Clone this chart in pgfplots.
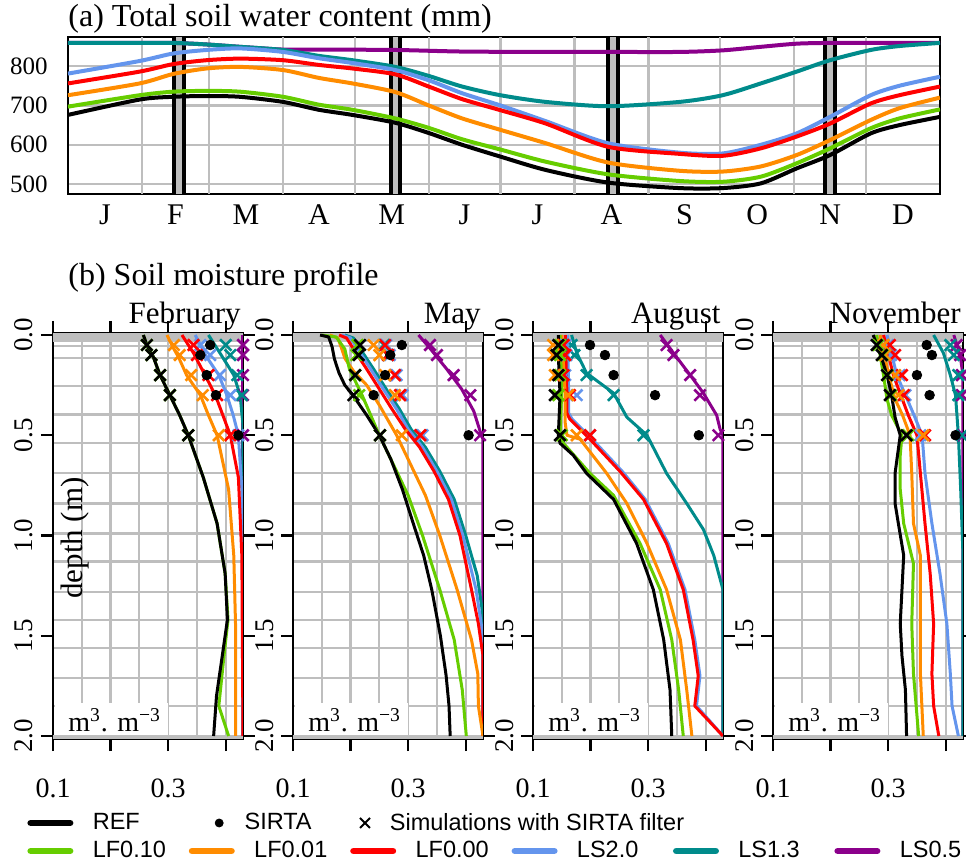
\documentclass[border=0pt]{standalone}
\usepackage{pgfplots}
\pgfplotsset{compat=1.18}
\usepackage{fontspec}
\setmainfont{Liberation Serif}
\newfontfamily\legendfont{Liberation Sans}

\definecolor{gridgray}{RGB}{190,190,190}
\definecolor{cREF}{RGB}{0,0,0}
\definecolor{cLF10}{RGB}{102,205,0}
\definecolor{cLF01}{RGB}{255,140,0}
\definecolor{cLF00}{RGB}{255,0,0}
\definecolor{cLS20}{RGB}{100,149,237}
\definecolor{cLS13}{RGB}{0,139,139}
\definecolor{cLS05}{RGB}{139,0,139}

\newcommand\fs[1]{\fontsize{#1}{#1}\selectfont}

\pgfplotsset{
  prof/.style={line width=1.5pt, line join=round, no marks},
  filt/.style={only marks, mark=x, mark size=4pt, line width=1.3pt},
  obs/.style={only marks, mark=*, mark size=2.4pt, black},
  swc/.style={line width=2pt, smooth, tension=0.45, no marks},
  profile/.style={
    scale only axis, width=95pt, height=203pt, anchor=south west,
    xmin=0.1, xmax=0.43, ymin=-0.01, ymax=2.015, y dir=reverse,
    axis line style={line width=1.2pt},
    xtick={0.1,0.2,0.3,0.4}, xticklabels={0.1,,0.3,},
    ytick={0,0.5,1,1.5,2}, yticklabels={0.0,0.5,1.0,1.5,2.0},
    minor xtick={0.15,0.25,0.35},
    minor ytick={0.053,0.116,0.253,0.396,0.54,0.69,0.84,0.99,1.13,1.28,1.42,1.56,1.71,1.85},
    xmajorgrids=true, xminorgrids=true, yminorgrids=true, ymajorgrids=false,
    major grid style={gridgray, line width=1.1pt},
    minor grid style={gridgray, line width=1.1pt},
    tick align=outside, major tick length=6pt, minor tick length=0pt,
    tick style={black, line width=1.1pt},
    xticklabel style={font=\fs{14pt}, anchor=base, yshift=-23pt},
    yticklabel style={font=\fs{13.5pt}, rotate=90, anchor=base},
    yticklabel shift=4pt,
    title style={font=\fs{15.5pt}, at={(1,1)}, anchor=base east, yshift=-1.5pt, xshift=-1pt, inner sep=0pt},
  },
}

% soil layer shading and unit box, common to the four profiles
\newcommand\profilebackdrop{%
  \fill[gridgray] (axis cs:0.1,-0.01) rectangle (axis cs:0.43,0.035);
  \fill[gridgray] (axis cs:0.1,1.993) rectangle (axis cs:0.43,2.015);
  \fill[white] (axis cs:0.1035,1.835) rectangle (axis cs:0.3,1.993);
  \node[anchor=base west, inner sep=0pt, font=\fs{14pt}] at (axis cs:0.126,1.98)
    {m\textsuperscript{3}. m\textsuperscript{\char"2212 3}};
}

\begin{document}
\begin{tikzpicture}

% ---------------- (a) total soil water content ----------------
\begin{axis}[
  at={(34pt,334.5pt)}, anchor=south west,
  scale only axis, width=436pt, height=78.5pt,
  xmin=0, xmax=365, ymin=475, ymax=874,
  axis line style={line width=1pt},
  xtick={15.5,45,74.5,105,135.5,166,196.5,227.5,258,288.5,319,349.5},
  xticklabels={J,F,M,A,M,J,J,A,S,O,N,D},
  xticklabel style={font=\fs{15pt}, anchor=base, yshift=-15.5pt},
  ytick={500,600,700,800}, yticklabels={500,600,700,800},
  yticklabel style={font=\fs{12.5pt}, anchor=east, inner sep=0pt, xshift=-10pt},
  major tick length=0pt,
  ymajorgrids=true,
  major grid style={gridgray, line width=1.1pt},
  extra x ticks={31,59,90,120,151,181,212,243,273,304,334},
  extra x tick labels={},
  extra x tick style={grid=major},
]
% sampling dates of the four profiles
\fill[gridgray] (axis cs:44.2,475) rectangle (axis cs:48.4,874);
\fill[gridgray] (axis cs:135.3,475) rectangle (axis cs:139.1,874);
\fill[gridgray] (axis cs:226,475) rectangle (axis cs:230.2,874);
\fill[gridgray] (axis cs:317,475) rectangle (axis cs:321.2,874);
\draw[line width=2pt] (axis cs:44.2,475) -- (axis cs:44.2,874) (axis cs:48.4,475) -- (axis cs:48.4,874)
  (axis cs:135.3,475) -- (axis cs:135.3,874) (axis cs:139.1,475) -- (axis cs:139.1,874)
  (axis cs:226,475) -- (axis cs:226,874) (axis cs:230.2,475) -- (axis cs:230.2,874)
  (axis cs:317,475) -- (axis cs:317,874) (axis cs:321.2,475) -- (axis cs:321.2,874);

\addplot[swc, cLS05] coordinates {(0,859) (30,859) (44,859) (58,855) (72,849) (90,842) (105,842) (137,841) (165,837) (200,836) (226,836) (256,836) (274,840) (290,849) (305,857) (319,859) (336,859) (365,859)};
\addplot[swc, cLS13] coordinates {(0,859) (30,859) (44,859) (58,855) (72,849) (90,841) (105,826) (119,815) (137,798) (151,775) (165,748) (181,726) (200,709) (226,698) (256,709) (274,726) (290,756) (305,786) (319,815) (336,841) (348,851) (365,859)};
\addplot[swc, cLS20] coordinates {(0,781) (30,813) (44,832) (58,841) (72,845) (90,836) (105,820) (119,808) (137,790) (151,764) (165,731) (181,700) (200,660) (226,604) (256,580) (274,578) (290,600) (305,629) (319,671) (336,726) (348,750) (365,773)};
\addplot[swc, cLF00] coordinates {(0,756) (30,786) (44,805) (58,815) (72,819) (90,815) (105,803) (119,794) (137,779) (151,748) (165,716) (181,688) (200,654) (226,595) (256,577) (274,572) (290,591) (305,621) (319,654) (336,705) (348,726) (365,748)};
\addplot[swc, cLF01] coordinates {(0,726) (30,756) (44,780) (58,794) (72,798) (90,790) (105,770) (119,756) (137,734) (151,700) (165,667) (181,638) (200,604) (226,555) (256,534) (274,532) (290,545) (305,574) (319,612) (336,663) (348,693) (365,720)};
\addplot[swc, cLF10] coordinates {(0,697) (30,726) (44,735) (58,737) (72,735) (90,722) (105,702) (119,689) (137,667) (151,643) (165,614) (181,588) (200,557) (226,525) (256,508) (274,506) (290,519) (305,553) (319,591) (336,642) (348,667) (365,690)};
\addplot[swc, cREF] coordinates {(0,676) (30,715) (44,722) (58,724) (72,722) (90,709) (105,689) (119,676) (137,656) (151,630) (165,600) (181,570) (200,536) (226,504) (256,490) (274,490) (290,502) (305,540) (319,574) (336,629) (348,650) (365,671)};
\end{axis}

% ---------------- (b) profiles: February ----------------
\begin{axis}[profile, at={(26.5pt,62pt)}, title=February]
\profilebackdrop
\addplot[prof, cLS05] coordinates {(0.43,0) (0.43,2.0)};
\addplot[prof, cLS13] coordinates {(0.37,0) (0.39,0.09) (0.414,0.2) (0.425,0.3) (0.43,0.45) (0.43,2.0)};
\addplot[prof, cLS20] coordinates {(0.347,0) (0.367,0.11) (0.388,0.2) (0.402,0.3) (0.413,0.4) (0.422,0.5) (0.428,0.77) (0.43,1.1) (0.43,2.0)};
\addplot[prof, cLF00] coordinates {(0.324,0) (0.344,0.09) (0.364,0.2) (0.382,0.3) (0.395,0.4) (0.408,0.5) (0.422,0.71) (0.428,1.1) (0.43,2.0)};
\addplot[prof, cLF01] coordinates {(0.298,0) (0.309,0.065) (0.318,0.11) (0.332,0.2) (0.356,0.3) (0.37,0.4) (0.385,0.5) (0.405,0.77) (0.414,1.1) (0.417,1.44) (0.417,2.0)};
\addplot[prof, cLF10] coordinates {(0.257,0) (0.263,0.05) (0.274,0.108) (0.286,0.2) (0.303,0.3) (0.32,0.4) (0.335,0.5) (0.361,0.71) (0.385,0.94) (0.399,1.19) (0.404,1.42) (0.397,1.6) (0.388,1.85) (0.405,2.0)};
\addplot[prof, cREF] coordinates {(0.257,0) (0.263,0.05) (0.274,0.108) (0.286,0.2) (0.303,0.3) (0.32,0.4) (0.335,0.5) (0.361,0.71) (0.385,0.94) (0.399,1.19) (0.403,1.42) (0.394,1.6) (0.384,1.8) (0.379,2.0)};
\addplot[filt, cLS05] coordinates {(0.43,0.05) (0.43,0.1) (0.43,0.2) (0.43,0.3) (0.43,0.5)};
\addplot[filt, cLS13] coordinates {(0.40,0.05) (0.408,0.1) (0.42,0.2) (0.428,0.3) (0.431,0.5)};
\addplot[filt, cLS20] coordinates {(0.356,0.05) (0.373,0.1) (0.39,0.2) (0.408,0.3) (0.422,0.5)};
\addplot[filt, cLF00] coordinates {(0.344,0.05) (0.35,0.1) (0.37,0.2) (0.385,0.3) (0.408,0.5)};
\addplot[filt, cLF01] coordinates {(0.31,0.05) (0.32,0.1) (0.34,0.2) (0.36,0.3) (0.388,0.5)};
\addplot[filt, cLF10] coordinates {(0.263,0.05) (0.271,0.1) (0.286,0.2) (0.303,0.3) (0.335,0.5)};
\addplot[filt, cREF] coordinates {(0.263,0.05) (0.271,0.1) (0.286,0.2) (0.303,0.3) (0.335,0.5)};
\addplot[obs] coordinates {(0.373,0.05) (0.356,0.1) (0.367,0.2) (0.383,0.3) (0.422,0.5)};
\end{axis}

% ---------------- May ----------------
\begin{axis}[profile, at={(146.5pt,62pt)}, title=May]
\profilebackdrop
\addplot[prof, cLS05] coordinates {(0.318,0) (0.338,0.067) (0.367,0.17) (0.393,0.27) (0.414,0.38) (0.425,0.48) (0.43,0.52) (0.43,2.0)};
\addplot[prof, cLS13] coordinates {(0.19,0) (0.205,0.015) (0.22,0.083) (0.24,0.17) (0.262,0.27) (0.285,0.37) (0.305,0.47) (0.33,0.56) (0.355,0.68) (0.38,0.82) (0.4,1.0) (0.42,1.2) (0.43,1.4) (0.43,2.0)};
\addplot[prof, cLS20] coordinates {(0.185,0) (0.2,0.015) (0.215,0.083) (0.235,0.17) (0.257,0.27) (0.28,0.37) (0.3,0.47) (0.325,0.56) (0.35,0.68) (0.375,0.82) (0.395,1.0) (0.418,1.27) (0.43,1.5) (0.43,2.0)};
\addplot[prof, cLF00] coordinates {(0.18,0) (0.193,0.015) (0.208,0.083) (0.228,0.17) (0.25,0.27) (0.272,0.37) (0.295,0.47) (0.32,0.56) (0.345,0.68) (0.37,0.82) (0.39,1.0) (0.41,1.27) (0.422,1.44) (0.43,1.6) (0.43,2.0)};
\addplot[prof, cLF01] coordinates {(0.164,0) (0.178,0.015) (0.186,0.08) (0.19,0.116) (0.205,0.18) (0.228,0.25) (0.25,0.35) (0.28,0.5) (0.305,0.65) (0.33,0.8) (0.355,1.0) (0.385,1.27) (0.41,1.52) (0.421,1.69) (0.422,1.85) (0.43,2.0)};
\addplot[prof, cLF10] coordinates {(0.15,0) (0.175,0.01) (0.19,0.07) (0.198,0.17) (0.22,0.3) (0.25,0.5) (0.27,0.62) (0.3,0.8) (0.325,1.0) (0.355,1.27) (0.38,1.52) (0.394,1.77) (0.401,2.0)};
\addplot[prof, cREF] coordinates {(0.147,0) (0.162,0.01) (0.168,0.06) (0.172,0.12) (0.18,0.19) (0.19,0.25) (0.204,0.3) (0.228,0.4) (0.25,0.5) (0.27,0.62) (0.29,0.77) (0.31,0.95) (0.327,1.1) (0.341,1.27) (0.356,1.5) (0.366,1.7) (0.371,1.85) (0.373,2.0)};
\addplot[filt, cLS05] coordinates {(0.338,0.05) (0.35,0.1) (0.379,0.2) (0.408,0.3) (0.425,0.5)};
\addplot[filt, cLS13] coordinates {(0.258,0.05) (0.265,0.1) (0.278,0.2) (0.288,0.3) (0.323,0.5)};
\addplot[filt, cLS20] coordinates {(0.262,0.05) (0.268,0.1) (0.28,0.2) (0.29,0.3) (0.325,0.5)};
\addplot[filt, cLF00] coordinates {(0.26,0.05) (0.265,0.1) (0.277,0.2) (0.286,0.3) (0.321,0.5)};
\addplot[filt, cLF01] coordinates {(0.24,0.05) (0.25,0.1) (0.26,0.2) (0.277,0.3) (0.289,0.5)};
\addplot[filt, cLF10] coordinates {(0.212,0.05) (0.21,0.1) (0.208,0.2) (0.215,0.3) (0.251,0.5)};
\addplot[filt, cREF] coordinates {(0.2165,0.05) (0.214,0.1) (0.208,0.2) (0.205,0.3) (0.251,0.5)};
\addplot[obs] coordinates {(0.289,0.05) (0.269,0.1) (0.26,0.2) (0.24,0.3) (0.405,0.5)};
\end{axis}

% ---------------- August ----------------
\begin{axis}[profile, at={(266.5pt,62pt)}, title=August]
\profilebackdrop
\addplot[prof, cLS05] coordinates {(0.321,0) (0.344,0.09) (0.373,0.2) (0.396,0.29) (0.419,0.4) (0.425,0.47) (0.43,0.5) (0.43,2.0)};
\addplot[prof, cLS13] coordinates {(0.167,0) (0.176,0.09) (0.193,0.19) (0.24,0.29) (0.263,0.41) (0.298,0.5) (0.332,0.69) (0.367,0.84) (0.396,0.97) (0.414,1.1) (0.43,1.27) (0.43,2.0)};
\addplot[prof, cLS20] coordinates {(0.16,0) (0.162,0.3) (0.162,0.39) (0.168,0.42) (0.203,0.52) (0.255,0.68) (0.295,0.82) (0.335,1.04) (0.364,1.27) (0.381,1.52) (0.39,1.7) (0.384,1.85) (0.43,2.0)};
\addplot[prof, cLF00] coordinates {(0.156,0) (0.159,0.3) (0.159,0.39) (0.164,0.42) (0.199,0.52) (0.251,0.68) (0.292,0.82) (0.332,1.04) (0.361,1.27) (0.378,1.52) (0.387,1.7) (0.381,1.85) (0.43,2.0)};
\addplot[prof, cLF01] coordinates {(0.15,0) (0.156,0.3) (0.156,0.44) (0.159,0.5) (0.182,0.52) (0.228,0.69) (0.263,0.84) (0.298,1.04) (0.332,1.27) (0.356,1.52) (0.367,1.77) (0.376,2.0)};
\addplot[prof, cLF10] coordinates {(0.147,0) (0.15,0.27) (0.147,0.5) (0.153,0.54) (0.199,0.69) (0.24,0.8) (0.286,1.04) (0.321,1.27) (0.341,1.52) (0.353,1.77) (0.361,2.0)};
\addplot[prof, cREF] coordinates {(0.144,0) (0.144,0.1) (0.147,0.3) (0.144,0.5) (0.147,0.54) (0.17,0.6) (0.193,0.69) (0.24,0.82) (0.28,1.04) (0.309,1.27) (0.327,1.52) (0.338,1.77) (0.341,2.0)};
\addplot[filt, cLS05] coordinates {(0.332,0.05) (0.344,0.1) (0.373,0.2) (0.39,0.3) (0.422,0.5)};
\addplot[filt, cLS13] coordinates {(0.167,0.05) (0.172,0.1) (0.193,0.2) (0.24,0.3) (0.292,0.5)};
\addplot[filt, cLS20] coordinates {(0.156,0.05) (0.158,0.1) (0.156,0.2) (0.176,0.3) (0.199,0.5)};
\addplot[filt, cLF00] coordinates {(0.153,0.05) (0.156,0.1) (0.153,0.2) (0.164,0.3) (0.199,0.5)};
\addplot[filt, cLF01] coordinates {(0.135,0.05) (0.135,0.1) (0.138,0.2) (0.161,0.3) (0.176,0.5)};
\addplot[filt, cLF10] coordinates {(0.147,0.05) (0.147,0.1) (0.147,0.2) (0.144,0.3) (0.15,0.5)};
\addplot[filt, cREF] coordinates {(0.144,0.05) (0.141,0.1) (0.144,0.2) (0.138,0.3) (0.147,0.5)};
\addplot[obs] coordinates {(0.199,0.05) (0.225,0.1) (0.24,0.2) (0.312,0.3) (0.388,0.5)};
\end{axis}

% ---------------- November ----------------
\begin{axis}[profile, at={(386.5pt,62pt)}, title=November]
\profilebackdrop
\addplot[prof, cLS05] coordinates {(0.414,0) (0.425,0.1) (0.43,0.2) (0.43,2.0)};
\addplot[prof, cLS13] coordinates {(0.379,0) (0.396,0.09) (0.408,0.2) (0.417,0.3) (0.422,0.5) (0.426,0.77) (0.43,1.1) (0.43,2.0)};
\addplot[prof, cLS20] coordinates {(0.298,0) (0.315,0.2) (0.33,0.3) (0.345,0.4) (0.359,0.5) (0.364,0.69) (0.376,0.94) (0.39,1.19) (0.402,1.44) (0.408,1.69) (0.411,1.85) (0.422,2.0)};
\addplot[prof, cLF00] coordinates {(0.292,0) (0.309,0.2) (0.322,0.3) (0.335,0.4) (0.35,0.5) (0.356,0.69) (0.364,0.94) (0.373,1.19) (0.379,1.44) (0.376,1.69) (0.379,1.85) (0.388,2.0)};
\addplot[prof, cLF01] coordinates {(0.286,0) (0.301,0.2) (0.312,0.32) (0.325,0.4) (0.338,0.5) (0.341,0.69) (0.344,0.94) (0.356,1.1) (0.356,1.44) (0.356,1.69) (0.361,2.0)};
\addplot[prof, cLF10] coordinates {(0.28,0) (0.292,0.2) (0.298,0.32) (0.306,0.4) (0.324,0.5) (0.321,0.6) (0.321,0.77) (0.327,0.94) (0.344,1.14) (0.341,1.44) (0.344,1.69) (0.353,2.0)};
\addplot[prof, cREF] coordinates {(0.274,0) (0.286,0.09) (0.298,0.2) (0.306,0.3) (0.312,0.41) (0.321,0.5) (0.312,0.69) (0.312,0.84) (0.327,1.1) (0.324,1.27) (0.321,1.44) (0.324,1.6) (0.33,1.77) (0.332,2.0)};
\addplot[filt, cLS05] coordinates {(0.419,0.05) (0.425,0.1) (0.428,0.2) (0.428,0.3) (0.43,0.5)};
\addplot[filt, cLS13] coordinates {(0.408,0.05) (0.414,0.1) (0.422,0.2) (0.422,0.3) (0.428,0.5)};
\addplot[filt, cLS20] coordinates {(0.3,0.05) (0.305,0.1) (0.32,0.2) (0.33,0.3) (0.356,0.5)};
\addplot[filt, cLF00] coordinates {(0.303,0.05) (0.312,0.1) (0.324,0.2) (0.327,0.3) (0.364,0.5)};
\addplot[filt, cLF01] coordinates {(0.292,0.05) (0.295,0.1) (0.312,0.2) (0.318,0.3) (0.361,0.5)};
\addplot[filt, cLF10] coordinates {(0.283,0.05) (0.29,0.1) (0.299,0.2) (0.305,0.3) (0.335,0.5)};
\addplot[filt, cREF] coordinates {(0.28,0.05) (0.289,0.1) (0.298,0.2) (0.303,0.3) (0.332,0.5)};
\addplot[obs] coordinates {(0.367,0.05) (0.376,0.1) (0.35,0.2) (0.372,0.3) (0.417,0.5)};
\end{axis}

% ---------------- legend, first row ----------------
\begin{axis}[
  at={(0pt,0pt)}, anchor=south west, scale only axis, width=483pt, height=431.5pt,
  hide axis, xmin=0, xmax=1, ymin=0, ymax=1,
  legend columns=3, legend cell align=left,
  legend style={at={(0.02795,0.04635)}, anchor=west, draw=none, fill=none,
    inner sep=0pt, outer sep=0pt, column sep=0pt, row sep=0pt,
    nodes={inner sep=0pt, outer sep=0pt},
    font=\legendfont\fs{11.75pt},
    /tikz/every odd column/.style={column sep=9.5pt}},
]
\addlegendimage{legend image code/.code={\path (0pt,0pt) (23pt,0pt); \draw[black, line width=3.3pt, line cap=round] (1.65pt,0pt) -- (21.35pt,0pt);}}
\addlegendentry{\makebox[43pt][l]{REF}}
\addlegendimage{legend image code/.code={\path (0pt,0pt) (23pt,0pt); \fill[black] (20pt,0pt) circle (2pt);}}
\addlegendentry{\makebox[39.5pt][l]{SIRTA}}
\addlegendimage{legend image code/.code={\path (0pt,0pt) (23pt,0pt); \draw[black, line width=0.9pt] (18pt,-2.5pt) -- (23pt,2.5pt) (18pt,2.5pt) -- (23pt,-2.5pt);}}
\addlegendentry{Simulations with SIRTA filter}
\end{axis}

% ---------------- legend, second row ----------------
\begin{axis}[
  at={(0pt,0pt)}, anchor=south west, scale only axis, width=483pt, height=431.5pt,
  hide axis, xmin=0, xmax=1, ymin=0, ymax=1,
  legend columns=6, legend cell align=left,
  legend style={at={(0.02795,0.0139)}, anchor=west, draw=none, fill=none,
    inner sep=0pt, outer sep=0pt, column sep=0pt, row sep=0pt,
    nodes={inner sep=0pt, outer sep=0pt},
    font=\legendfont\fs{11.75pt},
    /tikz/every odd column/.style={column sep=9.5pt}},
  legend image code/.code={\path (0pt,0pt) (23pt,0pt); \draw[#1, line width=3.3pt, line cap=round] (1.65pt,0pt) -- (21.35pt,0pt);},
]
\addlegendimage{cLF10}\addlegendentry{\makebox[47.8pt][l]{LF0.10}}
\addlegendimage{cLF01}\addlegendentry{\makebox[47.8pt][l]{LF0.01}}
\addlegendimage{cLF00}\addlegendentry{\makebox[47.8pt][l]{LF0.00}}
\addlegendimage{cLS20}\addlegendentry{\makebox[47.8pt][l]{LS2.0}}
\addlegendimage{cLS13}\addlegendentry{\makebox[47.8pt][l]{LS1.3}}
\addlegendimage{cLS05}\addlegendentry{LS0.5}
\end{axis}

% titles and depth label
\node[anchor=base west, inner sep=0pt, font=\fs{16pt}] at (34pt,418pt) {(a) Total soil water content (mm)};
\node[anchor=base west, inner sep=0pt, font=\fs{16pt}] at (34pt,288.5pt) {(b) Soil moisture profile};
\node[rotate=90, inner sep=0pt, font=\fs{15.5pt}] at (37.5pt,162.5pt) {depth (m)};

\pgfresetboundingbox
\path[use as bounding box] (0pt,0pt) rectangle (483pt,431.5pt);
\end{tikzpicture}
\end{document}
